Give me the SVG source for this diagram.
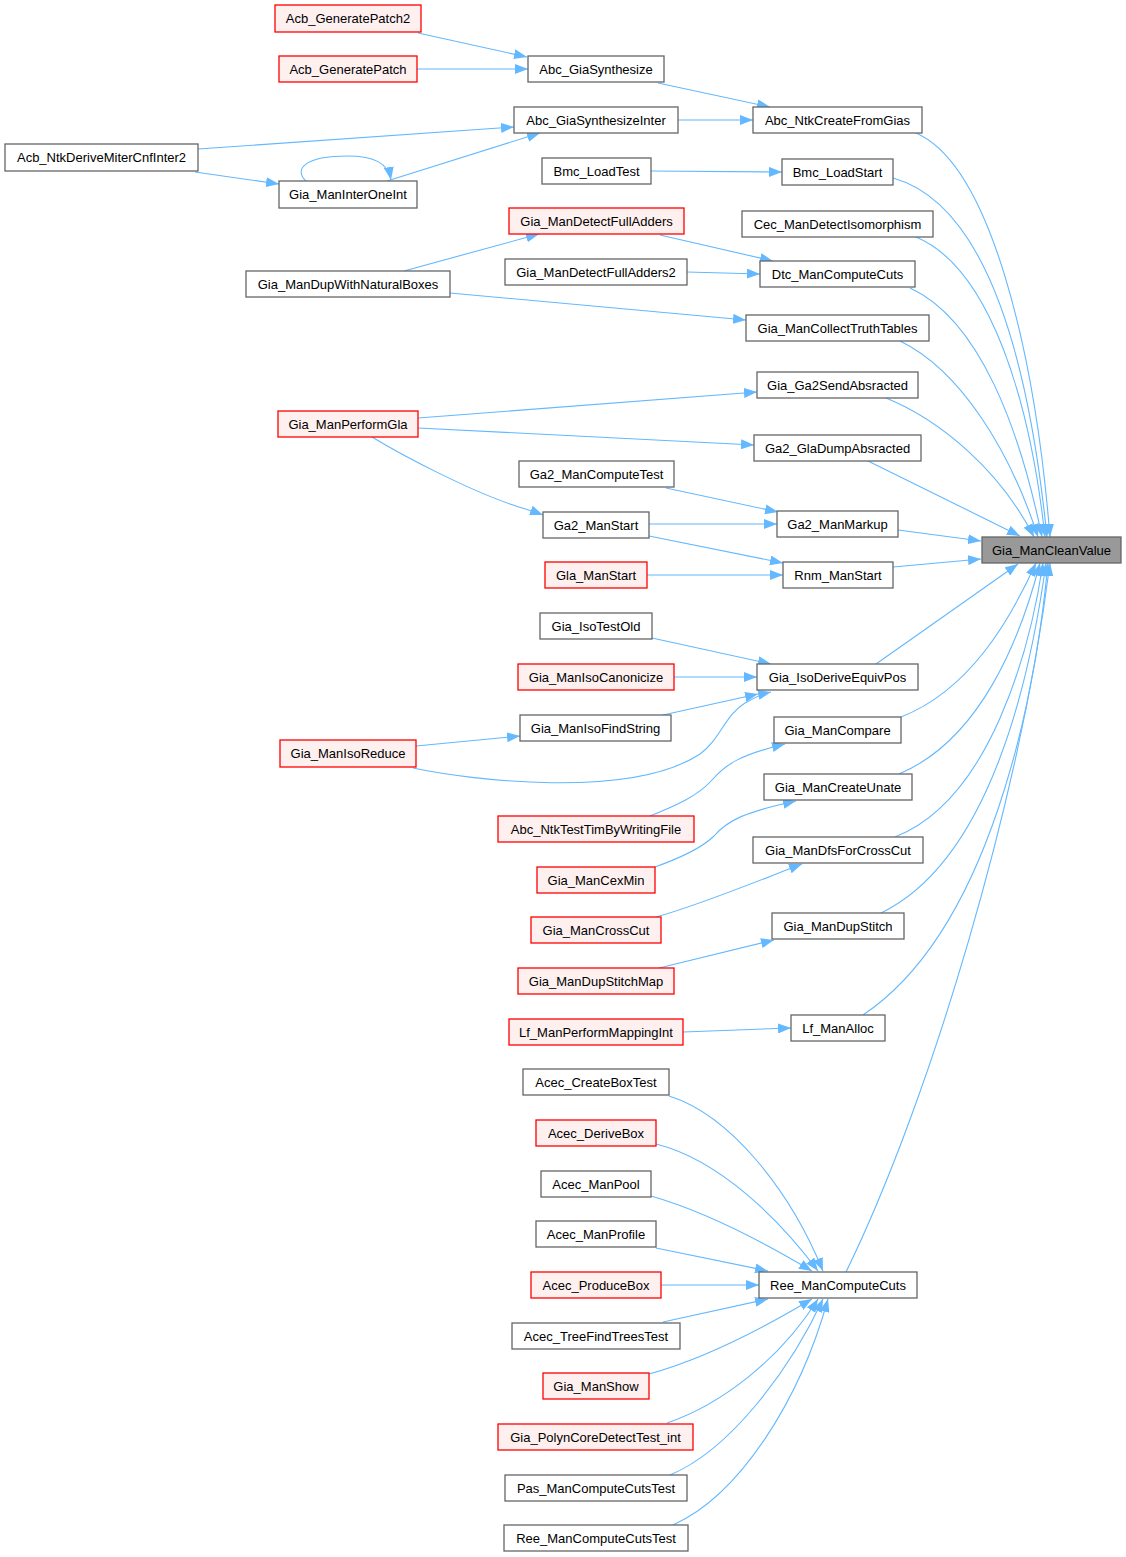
<svg xmlns="http://www.w3.org/2000/svg" width="1126" height="1557" viewBox="0 0 1126 1557">
<style>
text{font-family:"Liberation Sans",Arial,sans-serif;font-size:13px;text-anchor:middle;fill:#000}
.n{fill:#fff;stroke:#666;stroke-width:1.3}
.r{fill:#fff0f0;stroke:#f00;stroke-width:1.3}
.m{fill:#999;stroke:#666;stroke-width:1.3}
.e path{fill:none;stroke:#63b8ff;stroke-width:1.1;marker-end:url(#ah)}
</style>
<defs>
<marker id="ah" viewBox="0 0 13 10" refX="13" refY="5" markerWidth="13" markerHeight="10" markerUnits="userSpaceOnUse" orient="auto">
<path d="M0,0 L13,5 L0,10 z" fill="#63b8ff"/>
</marker>
</defs>
<rect width="1126" height="1557" fill="#fff"/>
<g class="e" id="edges">
<path d="M418,33 L527,57"/>
<path d="M417,69 L528,69"/>
<path d="M658,83 L770,107"/>
<path d="M678,120 L753,120"/>
<path d="M198,149 L514,127"/>
<path d="M195,172 L279,184"/>
<path d="M387,181 L540,133"/>
<path d="M306,181 C294,170 303,156 348,156 C374,156 388,163 391,180"/>
<path d="M651,171 L782,172"/>
<path d="M660,235 L773,261"/>
<path d="M687,272 L760,274"/>
<path d="M404,271 L539,234"/>
<path d="M450,293 L746,320"/>
<path d="M418,418 L757,392"/>
<path d="M418,428 L754,445"/>
<path d="M372,437 C410,460 470,490 510,504 C525,509 535,512 543,515"/>
<path d="M666,488 L778,512"/>
<path d="M649,524 L777,524"/>
<path d="M649,536 L783,563"/>
<path d="M647,575 L783,575"/>
<path d="M652,638 L771,664"/>
<path d="M674,677 L757,677"/>
<path d="M663,715 L758,694"/>
<path d="M416,746 L520,736"/>
<path d="M413,768 C470,780 630,800 700,754 C720,740 725,715 745,703 C755,697 762,694 771,692"/>
<path d="M650,816 C675,806 698,796 712,780 C726,764 740,755 785,744"/>
<path d="M655,867 C680,858 702,848 714,836 C728,820 745,812 796,801"/>
<path d="M656,917 C700,905 760,880 802,864"/>
<path d="M659,968 L774,940"/>
<path d="M683,1032 L791,1028"/>
<path d="M669,1096 C730,1115 790,1190 823,1271"/>
<path d="M656,1144 C720,1160 780,1220 818,1271"/>
<path d="M651,1196 C700,1210 760,1240 812,1271"/>
<path d="M656,1248 L768,1271"/>
<path d="M661,1285 L759,1285"/>
<path d="M663,1322 L768,1299"/>
<path d="M649,1374 C700,1360 760,1330 812,1299"/>
<path d="M667,1423 C720,1405 780,1360 818,1299"/>
<path d="M670,1475 C730,1450 790,1370 823,1299"/>
<path d="M673,1525 C740,1495 800,1400 828,1299"/>
<path d="M916,133 C990,165 1035,350 1050,537"/>
<path d="M893,178 C990,205 1030,370 1047,537"/>
<path d="M916,237 C990,268 1030,400 1045,537"/>
<path d="M910,288 C980,320 1020,430 1042,537"/>
<path d="M900,341 C960,370 1010,450 1038,537"/>
<path d="M886,398 C940,420 1000,470 1034,537"/>
<path d="M868,461 L1020,536"/>
<path d="M898,530 L981,541"/>
<path d="M893,567 L981,559"/>
<path d="M876,664 L1018,564"/>
<path d="M901,717 C970,690 1010,620 1036,563"/>
<path d="M899,774 C980,740 1020,640 1040,563"/>
<path d="M895,837 C990,800 1030,650 1043,563"/>
<path d="M881,913 C990,860 1030,680 1046,563"/>
<path d="M863,1015 C990,930 1035,700 1048,563"/>
<path d="M846,1272 C930,1100 1020,800 1050,563"/>
</g>
<g id="Gia_ManCleanValue"><rect class="m" x="982" y="537" width="139" height="26"/><text x="1051.5" y="554.5">Gia_ManCleanValue</text></g>
<g id="Abc_NtkCreateFromGias"><rect class="n" x="753" y="107" width="169" height="26"/><text x="837.5" y="124.5">Abc_NtkCreateFromGias</text></g>
<g id="Bmc_LoadStart"><rect class="n" x="782" y="159" width="111" height="26"/><text x="837.5" y="176.5">Bmc_LoadStart</text></g>
<g id="Cec_ManDetectIsomorphism"><rect class="n" x="742" y="211" width="191" height="26"/><text x="837.5" y="228.5">Cec_ManDetectIsomorphism</text></g>
<g id="Dtc_ManComputeCuts"><rect class="n" x="760" y="261" width="155" height="26"/><text x="837.5" y="278.5">Dtc_ManComputeCuts</text></g>
<g id="Gia_ManCollectTruthTables"><rect class="n" x="746" y="315" width="183" height="26"/><text x="837.5" y="332.5">Gia_ManCollectTruthTables</text></g>
<g id="Gia_Ga2SendAbsracted"><rect class="n" x="757" y="372" width="161" height="26"/><text x="837.5" y="389.5">Gia_Ga2SendAbsracted</text></g>
<g id="Ga2_GlaDumpAbsracted"><rect class="n" x="754" y="435" width="167" height="26"/><text x="837.5" y="452.5">Ga2_GlaDumpAbsracted</text></g>
<g id="Ga2_ManMarkup"><rect class="n" x="777" y="511" width="121" height="26"/><text x="837.5" y="528.5">Ga2_ManMarkup</text></g>
<g id="Rnm_ManStart"><rect class="n" x="783" y="562" width="110" height="26"/><text x="838" y="579.5">Rnm_ManStart</text></g>
<g id="Gia_IsoDeriveEquivPos"><rect class="n" x="757" y="664" width="161" height="26"/><text x="837.5" y="681.5">Gia_IsoDeriveEquivPos</text></g>
<g id="Gia_ManCompare"><rect class="n" x="774" y="717" width="127" height="26"/><text x="837.5" y="734.5">Gia_ManCompare</text></g>
<g id="Gia_ManCreateUnate"><rect class="n" x="764" y="774" width="148" height="26"/><text x="838" y="791.5">Gia_ManCreateUnate</text></g>
<g id="Gia_ManDfsForCrossCut"><rect class="n" x="753" y="837" width="170" height="26"/><text x="838" y="854.5">Gia_ManDfsForCrossCut</text></g>
<g id="Gia_ManDupStitch"><rect class="n" x="772" y="913" width="132" height="26"/><text x="838" y="930.5">Gia_ManDupStitch</text></g>
<g id="Lf_ManAlloc"><rect class="n" x="791" y="1015" width="94" height="26"/><text x="838" y="1032.5">Lf_ManAlloc</text></g>
<g id="Ree_ManComputeCuts"><rect class="n" x="759" y="1272" width="158" height="26"/><text x="838" y="1289.5">Ree_ManComputeCuts</text></g>
<g id="Abc_GiaSynthesize"><rect class="n" x="528" y="56" width="136" height="26"/><text x="596" y="73.5">Abc_GiaSynthesize</text></g>
<g id="Abc_GiaSynthesizeInter"><rect class="n" x="514" y="107" width="164" height="26"/><text x="596" y="124.5">Abc_GiaSynthesizeInter</text></g>
<g id="Bmc_LoadTest"><rect class="n" x="542" y="158" width="109" height="26"/><text x="596.5" y="175.5">Bmc_LoadTest</text></g>
<g id="Gia_ManDetectFullAdders"><rect class="r" x="509" y="208" width="175" height="26"/><text x="596.5" y="225.5">Gia_ManDetectFullAdders</text></g>
<g id="Gia_ManDetectFullAdders2"><rect class="n" x="505" y="259" width="182" height="26"/><text x="596" y="276.5">Gia_ManDetectFullAdders2</text></g>
<g id="Ga2_ManComputeTest"><rect class="n" x="519" y="461" width="155" height="26"/><text x="596.5" y="478.5">Ga2_ManComputeTest</text></g>
<g id="Ga2_ManStart"><rect class="n" x="543" y="512" width="106" height="26"/><text x="596" y="529.5">Ga2_ManStart</text></g>
<g id="Gla_ManStart"><rect class="r" x="545" y="562" width="102" height="26"/><text x="596" y="579.5">Gla_ManStart</text></g>
<g id="Gia_IsoTestOld"><rect class="n" x="540" y="613" width="112" height="26"/><text x="596" y="630.5">Gia_IsoTestOld</text></g>
<g id="Gia_ManIsoCanonicize"><rect class="r" x="518" y="664" width="156" height="26"/><text x="596" y="681.5">Gia_ManIsoCanonicize</text></g>
<g id="Gia_ManIsoFindString"><rect class="n" x="520" y="715" width="151" height="26"/><text x="595.5" y="732.5">Gia_ManIsoFindString</text></g>
<g id="Abc_NtkTestTimByWritingFile"><rect class="r" x="498" y="816" width="196" height="26"/><text x="596" y="833.5">Abc_NtkTestTimByWritingFile</text></g>
<g id="Gia_ManCexMin"><rect class="r" x="537" y="867" width="118" height="26"/><text x="596" y="884.5">Gia_ManCexMin</text></g>
<g id="Gia_ManCrossCut"><rect class="r" x="531" y="917" width="130" height="26"/><text x="596" y="934.5">Gia_ManCrossCut</text></g>
<g id="Gia_ManDupStitchMap"><rect class="r" x="518" y="968" width="156" height="26"/><text x="596" y="985.5">Gia_ManDupStitchMap</text></g>
<g id="Lf_ManPerformMappingInt"><rect class="r" x="509" y="1019" width="174" height="26"/><text x="596" y="1036.5">Lf_ManPerformMappingInt</text></g>
<g id="Acec_CreateBoxTest"><rect class="n" x="523" y="1069" width="146" height="26"/><text x="596" y="1086.5">Acec_CreateBoxTest</text></g>
<g id="Acec_DeriveBox"><rect class="r" x="536" y="1120" width="120" height="26"/><text x="596" y="1137.5">Acec_DeriveBox</text></g>
<g id="Acec_ManPool"><rect class="n" x="541" y="1171" width="110" height="26"/><text x="596" y="1188.5">Acec_ManPool</text></g>
<g id="Acec_ManProfile"><rect class="n" x="536" y="1221" width="120" height="26"/><text x="596" y="1238.5">Acec_ManProfile</text></g>
<g id="Acec_ProduceBox"><rect class="r" x="531" y="1272" width="130" height="26"/><text x="596" y="1289.5">Acec_ProduceBox</text></g>
<g id="Acec_TreeFindTreesTest"><rect class="n" x="512" y="1323" width="168" height="26"/><text x="596" y="1340.5">Acec_TreeFindTreesTest</text></g>
<g id="Gia_ManShow"><rect class="r" x="543" y="1373" width="106" height="26"/><text x="596" y="1390.5">Gia_ManShow</text></g>
<g id="Gia_PolynCoreDetectTest_int"><rect class="r" x="498" y="1424" width="195" height="26"/><text x="595.5" y="1441.5">Gia_PolynCoreDetectTest_int</text></g>
<g id="Pas_ManComputeCutsTest"><rect class="n" x="505" y="1475" width="182" height="26"/><text x="596" y="1492.5">Pas_ManComputeCutsTest</text></g>
<g id="Ree_ManComputeCutsTest"><rect class="n" x="504" y="1525" width="184" height="26"/><text x="596" y="1542.5">Ree_ManComputeCutsTest</text></g>
<g id="Acb_GeneratePatch2"><rect class="r" x="275" y="5" width="146" height="27"/><text x="348" y="23">Acb_GeneratePatch2</text></g>
<g id="Acb_GeneratePatch"><rect class="r" x="279" y="56" width="138" height="26"/><text x="348" y="73.5">Acb_GeneratePatch</text></g>
<g id="Gia_ManInterOneInt"><rect class="n" x="279" y="181" width="138" height="27"/><text x="348" y="199">Gia_ManInterOneInt</text></g>
<g id="Gia_ManDupWithNaturalBoxes"><rect class="n" x="246" y="271" width="204" height="26"/><text x="348" y="288.5">Gia_ManDupWithNaturalBoxes</text></g>
<g id="Gia_ManPerformGla"><rect class="r" x="278" y="411" width="140" height="26"/><text x="348" y="428.5">Gia_ManPerformGla</text></g>
<g id="Gia_ManIsoReduce"><rect class="r" x="280" y="740" width="136" height="27"/><text x="348" y="758">Gia_ManIsoReduce</text></g>
<g id="Acb_NtkDeriveMiterCnfInter2"><rect class="n" x="5" y="144" width="193" height="27"/><text x="101.5" y="162">Acb_NtkDeriveMiterCnfInter2</text></g>
</svg>
